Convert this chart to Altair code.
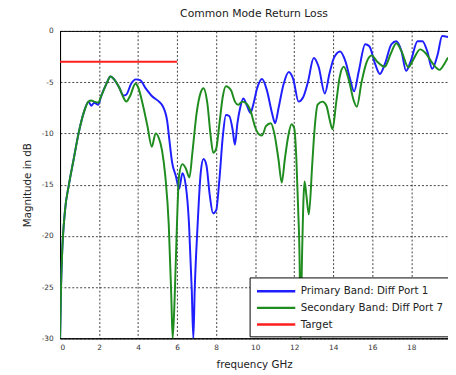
import altair as alt
import pandas as pd

# ---- data ----
freq_primary = [0.0, 0.05, 0.1, 0.25, 0.45, 0.7, 0.96, 1.21, 1.46, 1.6, 1.75, 1.96, 2.1, 2.38, 2.58,
                2.8, 3.05, 3.25, 3.4, 3.64, 3.89, 4.1, 4.39, 4.73, 5.07, 5.25, 5.49, 5.6, 5.74, 5.94,
                6.1, 6.27, 6.44, 6.61, 6.75, 6.83, 6.9, 7.05, 7.21, 7.35, 7.5, 7.67, 7.84, 8.0, 8.17,
                8.34, 8.5, 8.67, 8.84, 8.96, 9.09, 9.23, 9.39, 9.56, 9.76, 9.9, 10.1, 10.35, 10.6,
                10.86, 11.02, 11.2, 11.44, 11.72, 11.95, 12.22, 12.45, 12.7, 13.0, 13.25, 13.57, 13.8,
                14.04, 14.35, 14.63, 14.85, 15.07, 15.3, 15.64, 15.85, 16.14, 16.39, 16.65, 16.98,
                17.23, 17.5, 17.73, 17.98, 18.32, 18.57, 18.82, 19.07, 19.35, 19.58, 19.88]
mag_primary = [-30.0, -25.0, -22.0, -17.6, -15.05, -12.5, -9.9, -8.0, -6.9, -7.3, -7.0, -7.2, -6.4, -5.15, -4.45,
               -4.8, -5.6, -6.3, -6.2, -5.15, -4.73, -4.8, -5.6, -6.4, -6.9, -7.3, -8.8, -10.6, -12.8, -14.2,
               -15.4, -13.9, -15.05, -18.9, -25.3, -30.0, -25.3, -18.9, -13.8, -12.5, -13.1, -16.0, -17.8, -17.5, -14.4,
               -10.3, -8.2, -8.3, -9.6, -11.1, -9.0, -7.5, -6.6, -7.2, -8.0, -7.2, -5.6, -4.7, -5.8,
               -8.0, -9.0, -7.5, -5.3, -4.0, -4.7, -6.9, -6.5, -5.0, -2.65, -3.5, -6.1, -4.2,
               -2.6, -2.0, -3.0, -4.6, -5.9, -4.0, -1.3, -1.5, -3.2, -4.2, -3.2, -1.3,
               -1.0, -2.0, -3.9, -2.9, -1.0, -1.0, -2.0, -3.7, -2.3, -0.5, -0.6]

freq_secondary = [0.0, 0.05, 0.1, 0.25, 0.45, 0.7, 0.96, 1.21, 1.46, 1.6, 1.75, 1.96, 2.1, 2.38, 2.58,
                  2.8, 3.05, 3.25, 3.39, 3.6, 3.86, 4.0, 4.23, 4.48, 4.7, 4.9, 5.07, 5.23, 5.4, 5.57,
                  5.7, 5.77, 5.87, 5.99, 6.1, 6.27, 6.44, 6.63, 6.78, 7.0, 7.21, 7.35, 7.55, 7.72, 7.85,
                  8.0, 8.17, 8.34, 8.5, 8.76, 8.96, 9.13, 9.34, 9.56, 9.76, 10.0, 10.2, 10.35, 10.55,
                  10.8, 10.98, 11.19, 11.36, 11.52, 11.69, 11.86, 12.0, 12.11, 12.2, 12.28, 12.32, 12.4,
                  12.53, 12.62, 12.75, 12.92, 13.03, 13.2, 13.45, 13.65, 13.82, 13.96, 14.15, 14.33,
                  14.54, 14.8, 15.05, 15.21, 15.45, 15.72, 15.97, 16.25, 16.64, 16.95, 17.23, 17.5,
                  17.85, 18.1, 18.45, 18.75, 19.1, 19.45, 19.7, 19.88]
mag_secondary = [-30.0, -25.0, -22.0, -17.6, -15.05, -12.5, -9.9, -8.0, -6.9, -6.8, -6.9, -7.0, -6.4, -5.15, -4.45,
                 -4.8, -5.6, -6.5, -6.9, -6.3, -5.15, -5.5, -7.1, -9.3, -11.3, -10.0, -10.5, -11.7, -14.3, -18.9,
                 -25.9, -30.0, -26.2, -18.9, -14.1, -13.0, -13.4, -14.3, -11.9, -8.0, -6.0, -5.6, -7.1, -10.3, -11.9,
                 -11.5, -9.0, -6.4, -5.4, -5.8, -6.9, -7.2, -6.9, -7.1, -7.8, -9.4, -10.1, -10.2, -9.3,
                 -9.0, -10.0, -12.5, -14.8, -12.5, -10.3, -9.1, -9.5, -12.5, -17.3, -23.0, -30.0, -22.0,
                 -14.7, -16.0, -17.9, -13.1, -9.9, -7.2, -6.9, -7.3, -8.7, -9.6, -7.0, -4.5,
                 -3.5, -4.8, -6.8, -7.4, -5.0, -3.0, -2.4, -3.0, -3.5, -2.2, -1.2, -2.0,
                 -3.55, -2.8, -1.8, -2.2, -3.2, -3.8, -3.2, -2.6]

freq_target = [0.0, 6.0]
mag_target = [-3.0, -3.0]

series_names = ["Primary Band: Diff Port 1", "Secondary Band: Diff Port 7", "Target"]
series_colors = ["#1e1eff", "#1f8c1f", "#ff1e1e"]
x_ticks = [0, 2, 4, 6, 8, 10, 12, 14, 16, 18]
y_ticks = [-30, -25, -20, -15, -10, -5, 0]

rows = []
for name, xs, ys in zip(series_names,
                        [freq_primary, freq_secondary, freq_target],
                        [mag_primary, mag_secondary, mag_target]):
    for i, (xv, yv) in enumerate(zip(xs, ys)):
        rows.append({"series": name, "freq": xv, "mag": yv, "idx": i})
df = pd.DataFrame(rows)

FONT = "DejaVu Sans"

chart = alt.Chart(df).mark_line(strokeWidth=2, clip=True, interpolate="monotone").encode(
    x=alt.X("freq:Q",
            scale=alt.Scale(domain=[0, 19.88], nice=False, zero=False),
            axis=alt.Axis(values=x_ticks, title="frequency GHz", format="d")),
    y=alt.Y("mag:Q",
            scale=alt.Scale(domain=[-30, 0], nice=False),
            axis=alt.Axis(values=y_ticks, title="Magnitude in dB",
                          labelExpr="datum.value + ''")),
    color=alt.Color("series:N",
                    scale=alt.Scale(domain=series_names, range=series_colors),
                    sort=series_names,
                    legend=alt.Legend(title=None, orient="none", legendX=193, legendY=251,
                                      symbolType="M-1,0H5", symbolSize=169,
                                      symbolStrokeWidth=2.5, labelFont=FONT, labelFontSize=10.5,
                                      labelColor="#222", labelOffset=30, labelLimit=400,
                                      strokeColor="#000", fillColor="#fff", padding=6,
                                      rowPadding=3)),
    detail="series:N",
    order="idx:Q",
).properties(
    width=395, height=313,
    title=alt.TitleParams("Common Mode Return Loss", font=FONT, fontSize=11,
                          fontWeight="normal", color="#222", offset=8),
    autosize=alt.AutoSizeParams(type="none"),
    padding={"left": 53, "top": 20, "right": 0, "bottom": 34},
).configure_view(
    stroke="#000", strokeWidth=1
).configure_axis(
    domainColor="#000", domainWidth=1,
    grid=True, gridColor="#000", gridDash=[2, 2], gridOpacity=0.75, gridWidth=1,
    ticks=False, labelFont=FONT, labelFontSize=7.5, labelColor="#333",
    titleFont=FONT, titleFontSize=10.5, titleFontWeight="normal", titleColor="#222",
).configure_axisX(
    labelPadding=5, titlePadding=9
).configure_axisY(
    labelPadding=7, titlePadding=9
)

chart.save("out.html", embed_options={"renderer": "svg", "actions": False})
